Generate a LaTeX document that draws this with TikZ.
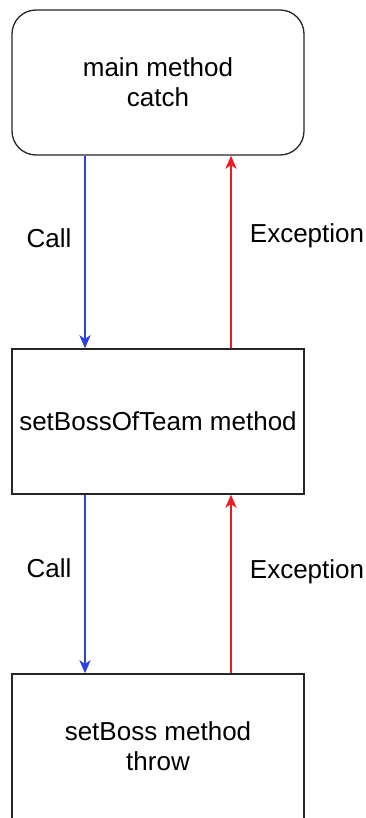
\documentclass[tikz,border=0pt]{standalone}
\usepackage{fontspec}
\setmainfont{Liberation Sans}
\usetikzlibrary{arrows.meta}
\definecolor{callblue}{HTML}{2F3FE6}
\definecolor{excred}{HTML}{EA1C24}
\begin{document}
\begin{tikzpicture}[x=1pt,y=-1pt,
  font=\fontsize{26}{30}\selectfont,
  box/.style={draw=black!85, line width=1.3pt, fill=white, minimum width=292pt,
    minimum height=145pt, align=center, inner sep=0pt},
  callarrow/.style={draw=callblue, line width=2.2pt,
    -{Stealth[length=13pt,width=11pt,inset=3.5pt]}},
  excarrow/.style={draw=excred, line width=2.2pt,
    -{Stealth[length=13pt,width=11pt,inset=3.5pt]}},
  lbl/.style={inner sep=0pt}]
\useasboundingbox (0,0) rectangle (365,818);
\clip (0,0) rectangle (365,818);

% the three methods along the call chain
\node[box, rounded corners=24pt] (main) at (158,82.5) {main method\\catch};
\node[box] (team) at (158,421.5) {setBossOfTeam method};
\node[box] (boss) at (158,746.5) {setBoss method\\throw};

% calls go down on the left, exceptions come back up on the right
\draw[callarrow] ([xshift=-73pt]main.south) -- ([xshift=-73pt]team.north);
\draw[excarrow] ([xshift=73pt]team.north) -- ([xshift=73pt]main.south);
\draw[callarrow] ([xshift=-73pt]team.south) -- ([xshift=-73pt]boss.north);
\draw[excarrow] ([xshift=73pt]boss.north) -- ([xshift=73pt]team.south);

\node[lbl] (call1) at (49,238) {Call};
\node[lbl] (exc1) at (307,235.5) {Exception};
\node[lbl] (call2) at (49,568) {Call};
\node[lbl] (exc2) at (307,571.5) {Exception};
\end{tikzpicture}
\end{document}
